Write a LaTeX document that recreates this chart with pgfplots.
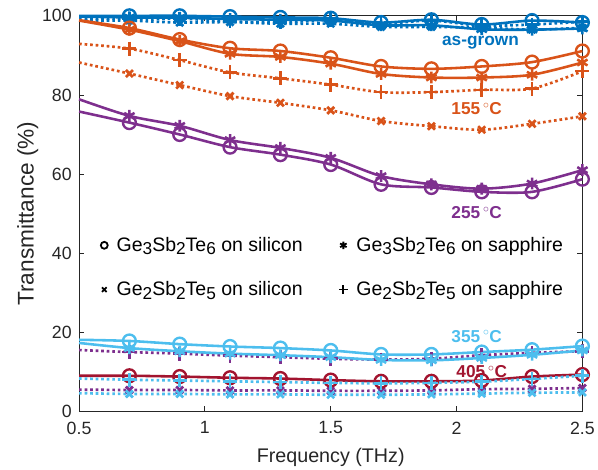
\documentclass[border=0pt]{standalone}
\usepackage{pgfplots}
\pgfplotsset{compat=1.18}
\usepackage{fontspec}
\setmainfont{Liberation Sans}
\definecolor{mBlue}{HTML}{0072BD}
\definecolor{mOrange}{HTML}{D95319}
\definecolor{mPurple}{HTML}{7E2F8E}
\definecolor{mCyan}{HTML}{4DBEEE}
\definecolor{mRed}{HTML}{A2142F}
\newcommand{\sub}[1]{\raisebox{-0.32ex}{\fontsize{17.5}{17.5}\selectfont #1}}
\pgfplotsset{
  gsi/.style={solid, line width=2.6bp, mark=o, mark size=6.5bp, mark indices={2,...,11}, mark options={solid, line width=2.4bp}},
  gsa/.style={solid, line width=2.6bp, mark=asterisk, mark size=6bp, mark indices={2,...,11}, mark options={solid, line width=2.6bp}},
  tsa/.style={line width=2.7bp, dash pattern=on 2.7bp off 2.9bp, mark=+, mark size=7bp, mark indices={2,...,11}, mark options={solid, line width=2.6bp}},
  tsi/.style={line width=2.7bp, dash pattern=on 2.7bp off 2.9bp, mark=x, mark size=5bp, mark indices={2,...,11}, mark options={solid, line width=2.8bp}},
}
\begin{document}
\begin{tikzpicture}
\begin{axis}[
  scale only axis, width=509bp, height=400bp,
  xmin=0.5, xmax=2.5, ymin=0, ymax=100,
  xtick={0.5,1,1.5,2,2.5}, ytick={0,20,40,60,80,100},
  xticklabels={0.5,1,1.5,2,2.5},
  tick align=inside, major tick length=5bp,
  axis line style={line width=0.8bp, draw=black!85},
  tick style={line width=0.8bp, draw=black!85},
  tick label style={font=\fontsize{18}{20}\selectfont, text=black!85},
  xticklabel style={yshift=-7bp},
  yticklabel style={xshift=-4bp},
  /pgf/number format/assume math mode=true,
  xlabel style={font=\fontsize{20}{23}\selectfont, text=black!85, yshift=-7bp},
  ylabel style={font=\fontsize{23}{26}\selectfont, text=black!85, yshift=-3bp},
  xlabel={Frequency (THz)}, ylabel={Transmittance (\%)},
  every axis plot/.append style={smooth, tension=0.5},
  legend style={draw=none, fill=none, at={(0.037,0.45)}, anchor=north west,
    font=\fontsize{19.8}{22}\selectfont, row sep=25bp,
    /tikz/every odd column/.append style={column sep=7bp},
    /tikz/every even column/.append style={column sep=35bp}},
  legend image code/.code={\draw[#1] plot coordinates {(0.15cm,0cm)};},
  legend columns=2, legend cell align=left,
  clip=false,
]
% legend entries (black markers only)
\addlegendimage{only marks, mark=o, mark size=3.5bp, line width=1.8bp, black}
\addlegendentry{Ge\sub{3}Sb\sub{2}Te\sub{6} on silicon}
\addlegendimage{only marks, mark=asterisk, mark size=3.8bp, line width=1.8bp, black}
\addlegendentry{Ge\sub{3}Sb\sub{2}Te\sub{6} on sapphire}
\addlegendimage{only marks, mark=x, mark size=3.3bp, line width=1.8bp, black}
\addlegendentry{Ge\sub{2}Sb\sub{2}Te\sub{5} on silicon}
\addlegendimage{only marks, mark=+, mark size=4.2bp, line width=1.8bp, black}
\addlegendentry{Ge\sub{2}Sb\sub{2}Te\sub{5} on sapphire}

% as-grown
\addplot[mBlue, gsi, forget plot] coordinates {(0.5,100)(0.7,100)(0.9,100)(1.1,99.8)(1.3,99.6)(1.5,99.4)(1.7,98.3)(1.9,99.0)(2.1,97.8)(2.3,98.8)(2.5,98.3)};
\addplot[mBlue, gsa, forget plot] coordinates {(0.5,99.8)(0.7,99.6)(0.9,99.5)(1.1,99.2)(1.3,99.0)(1.5,98.8)(1.7,97.6)(1.9,97.6)(2.1,96.6)(2.3,96.5)(2.5,96.8)};
\addplot[mBlue, tsa, forget plot] coordinates {(0.5,99.3)(0.7,99.2)(0.9,99.3)(1.1,98.6)(1.3,98.3)(1.5,99.0)(1.7,98.0)(1.9,98.8)(2.1,97.5)(2.3,97.8)(2.5,98.5)};
\addplot[mBlue, tsi, forget plot] coordinates {(0.5,98.8)(0.7,98.8)(0.9,98.3)(1.1,98.4)(1.3,98.0)(1.5,98.0)(1.7,97.2)(1.9,97.2)(2.1,97.0)(2.3,96.5)(2.5,97.0)};

% 155 C
\addplot[mOrange, gsi, forget plot] coordinates {(0.5,98.9)(0.7,96.9)(0.9,94.0)(1.1,91.8)(1.3,91.1)(1.5,89.4)(1.7,87.2)(1.9,86.6)(2.1,87.2)(2.3,88.3)(2.5,91.1)};
\addplot[mOrange, gsa, forget plot] coordinates {(0.5,98.8)(0.7,96.5)(0.9,93.6)(1.1,90.4)(1.3,89.6)(1.5,87.9)(1.7,85.3)(1.9,84.4)(2.1,84.4)(2.3,85.1)(2.5,88.2)};
\addplot[mOrange, tsa, forget plot] coordinates {(0.5,92.9)(0.7,91.7)(0.9,88.8)(1.1,85.7)(1.3,84.2)(1.5,82.6)(1.7,80.7)(1.9,80.7)(2.1,81.3)(2.3,81.6)(2.5,86.0)};
\addplot[mOrange, tsi, forget plot] coordinates {(0.5,88.2)(0.7,85.4)(0.9,82.5)(1.1,79.7)(1.3,78.0)(1.5,76.1)(1.7,73.4)(1.9,72.1)(2.1,71.2)(2.3,72.7)(2.5,74.6)};

% 255 C
\addplot[mPurple, gsi, forget plot] coordinates {(0.5,75.8)(0.7,73.0)(0.9,70.0)(1.1,66.8)(1.3,64.9)(1.5,62.4)(1.7,57.4)(1.9,56.6)(2.1,55.5)(2.3,55.5)(2.5,58.7)};
\addplot[mPurple, gsa, forget plot] coordinates {(0.5,78.9)(0.7,74.7)(0.9,72.2)(1.1,68.6)(1.3,66.6)(1.5,64.1)(1.7,59.5)(1.9,57.4)(2.1,56.3)(2.3,57.6)(2.5,61.0)};
\addplot[mPurple, tsa, forget plot] coordinates {(0.5,15.5)(0.7,15.0)(0.9,14.6)(1.1,14.1)(1.3,13.7)(1.5,13.3)(1.7,13.1)(1.9,13.3)(2.1,14.2)(2.3,14.8)(2.5,15.2)};
\addplot[mPurple, tsi, forget plot] coordinates {(0.5,5.5)(0.7,5.4)(0.9,5.4)(1.1,5.3)(1.3,5.3)(1.5,5.2)(1.7,5.2)(1.9,5.3)(2.1,5.6)(2.3,5.7)(2.5,5.9)};

% 405 C
\addplot[mRed, gsi, forget plot] coordinates {(0.5,9.0)(0.7,9.0)(0.9,8.8)(1.1,8.5)(1.3,8.3)(1.5,7.9)(1.7,7.6)(1.9,7.6)(2.1,7.8)(2.3,8.8)(2.5,9.3)};

% 355 C
\addplot[mCyan, gsi, forget plot] coordinates {(0.5,18.1)(0.7,17.8)(0.9,17.0)(1.1,16.4)(1.3,16.0)(1.5,15.4)(1.7,14.4)(1.9,14.4)(2.1,15.0)(2.3,15.6)(2.5,16.5)};
\addplot[mCyan, gsa, forget plot] coordinates {(0.5,17.3)(0.7,16.0)(0.9,15.2)(1.1,14.6)(1.3,14.2)(1.5,13.7)(1.7,13.0)(1.9,12.9)(2.1,13.5)(2.3,14.3)(2.5,15.4)};
\addplot[mCyan, tsa, forget plot] coordinates {(0.5,8.3)(0.7,8.0)(0.9,7.8)(1.1,7.6)(1.3,7.4)(1.5,7.2)(1.7,7.1)(1.9,7.2)(2.1,7.5)(2.3,8.2)(2.5,9.0)};
\addplot[mCyan, tsi, forget plot] coordinates {(0.5,4.6)(0.7,4.4)(0.9,4.4)(1.1,4.3)(1.3,4.3)(1.5,4.2)(1.7,4.2)(1.9,4.3)(2.1,4.5)(2.3,4.7)(2.5,4.8)};

\begin{scope}[every node/.style={font=\fontsize{17.5}{20}\selectfont\bfseries}]
\node[text=mBlue]   at (axis cs:2.095,93.2) {as-grown};
\node[text=mOrange] at (axis cs:2.08,76.5) {155\,\textsuperscript{$\circ$}C};
\node[text=mPurple] at (axis cs:2.08,50.3) {255\,\textsuperscript{$\circ$}C};
\node[text=mCyan]   at (axis cs:2.08,19.0) {355\,\textsuperscript{$\circ$}C};
\node[text=mRed]    at (axis cs:2.10,10.0) {405\,\textsuperscript{$\circ$}C};
\end{scope}
\end{axis}
\path (current axis.north) ++(0,16bp);
\path (current axis.outer west) ++(-14bp,0);
\end{tikzpicture}
\end{document}
